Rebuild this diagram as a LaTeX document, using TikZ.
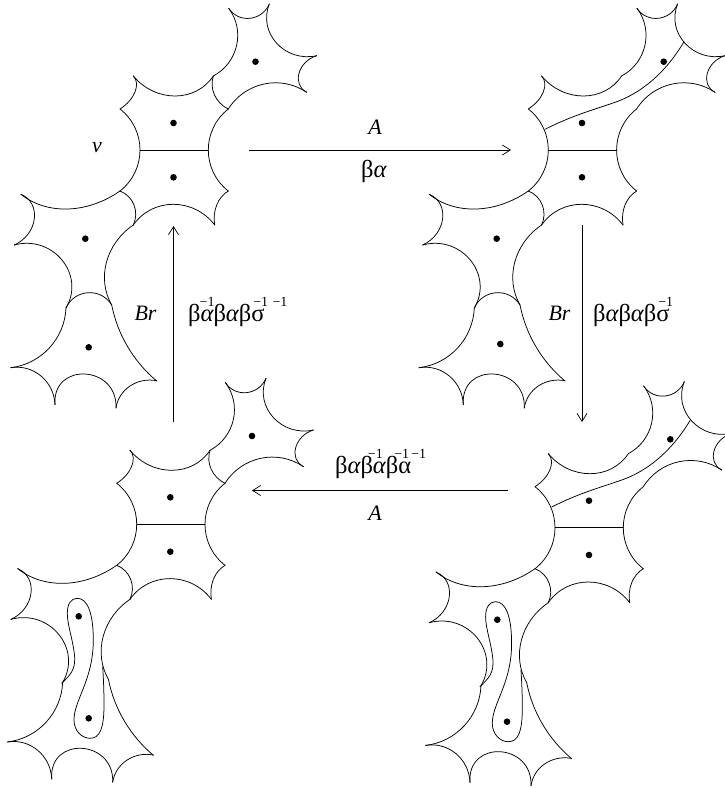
\documentclass[tikz,border=0pt]{standalone}
\usepackage{fontspec}
\setmainfont{Liberation Serif}
\usetikzlibrary{arrows.meta}
\tikzset{
  ln/.style={line width=0.75pt,line cap=round,line join=round},
  arr/.style={line width=0.7pt,-{Straight Barb[length=8pt,width=10pt,line width=0.7pt]}},
  lab/.style={inner sep=0pt,font=\fontsize{22}{22}\selectfont\itshape},
  form/.style={inner sep=0pt,anchor=base west,font=\fontsize{24.5}{24.5}\selectfont}
}
% circular-looking arc from a through mid point m to b, as one cubic
\newcommand\ar[6]{%
  \pgfmathsetmacro\mmx{(#1+#5)/2}\pgfmathsetmacro\mmy{(#2+#6)/2}%
  \pgfmathsetmacro\tts{(((#3-\mmx)/10)^2+((#4-\mmy)/10)^2)/((((#5-#1)/20)^2+((#6-#2)/20)^2))}%
  \pgfmathsetmacro\ka{(1-\tts)/3}%
  \pgfmathsetmacro\cax{#1+\ka*(#5-#1)+(4/3)*(#3-\mmx)}%
  \pgfmathsetmacro\cay{#2+\ka*(#6-#2)+(4/3)*(#4-\mmy)}%
  \pgfmathsetmacro\cbx{#5-\ka*(#5-#1)+(4/3)*(#3-\mmx)}%
  \pgfmathsetmacro\cby{#6-\ka*(#6-#2)+(4/3)*(#4-\mmy)}%
  \draw[ln] (#1,#2) .. controls (\cax,\cay) and (\cbx,\cby) .. (#5,#6);%
}
\newcommand\dt[1]{\fill #1 circle (3.3pt);}
\newcommand\itl{{\itshape α}}
\newcommand\supr[1]{\makebox[0pt][l]{\hspace{#1}\raisebox{15pt}{\fontsize{14}{14}\selectfont −1}}}
% the part common to all four pictures
\newcommand\figbase{%
  \ar{133.3}{76}{175}{96}{213.3}{76}
  \ar{213.3}{76}{236.6}{45.5}{228.7}{8.3}
  \ar{228.7}{8.3}{250}{18.3}{269.3}{4}
  \ar{269.3}{4}{276.7}{43.3}{316.7}{55.7}
  \ar{316.7}{55.7}{299}{73.3}{306.7}{92.3}
  \ar{306.7}{92.3}{264}{84}{228.3}{109}
  \ar{228.3}{109}{208.3}{150}{228.3}{191}
  \ar{228.3}{191}{216.7}{205}{214.7}{225}
  \ar{214.7}{225}{173.3}{204.3}{133.3}{225}
  \ar{133.3}{225}{106.5}{262}{111.7}{305}
  \ar{111.7}{305}{127.7}{346.8}{156.7}{381}
  \ar{120}{109}{135}{92}{133.3}{76}
  \ar{120}{109}{140}{150}{120}{191}
  \ar{120}{191}{68}{209}{21}{194.3}
  \ar{21}{194.3}{34.3}{219}{14.3}{245}
  \ar{14.3}{245}{62}{260}{66}{308}
  \ar{66}{308}{49.3}{348}{10.7}{367.7}
  \ar{10.7}{367.7}{41}{376}{55}{404.7}
  \ar{55}{404.7}{85}{374}{116}{408}
  \ar{116}{408}{130}{386}{156.7}{380.7}
  \draw[ln] (140,150) -- (208.3,150);
}
\newcommand\bottomshort{\ar{120}{191}{134}{205}{133.3}{225}}
\newcommand\topshort{\ar{213.3}{76}{214.5}{95}{228.3}{109}}
\newcommand\neck{\ar{66}{308}{88}{292.7}{111.7}{305}}
\newcommand\longline{\draw[ln] (136.7,129.3) .. controls (165,115) and (185,110) .. (208.4,101.7) .. controls (240,90) and (262,65) .. (275.7,41.7);}
% the closed loop round the two lower dots
\newcommand\loopcurve{\draw[ln] (61.7,683.3) .. controls (70,675) and (76,670) .. (74.5,655)
  .. controls (73,640) and (67.3,625) .. (67.3,613.3)
  .. controls (67.3,604) and (71,598.3) .. (77.3,598.3)
  .. controls (87,598.3) and (93.3,612) .. (93.3,640)
  .. controls (93.3,680) and (74,700) .. (74,720)
  .. controls (74,731) and (82,738.3) .. (90,738.3)
  .. controls (100,738.3) and (104,728) .. (104,705)
  .. controls (104,690) and (103.5,680) .. (102.7,666.7);}
\begin{document}
\begin{tikzpicture}[x=1pt,y=-1pt]
\useasboundingbox (0,0) rectangle (725,788);
\clip (0,0) rectangle (725,788);
% picture 1: top left
\begin{scope}
  \figbase \bottomshort \topshort \neck
\end{scope}
\dt{(173.5,123)}\dt{(173.5,177.3)}\dt{(255.5,61.7)}\dt{(85.3,238.7)}\dt{(88.7,347.3)}
% picture 2: top right
\begin{scope}[shift={(408.3,0)}]
  \figbase \bottomshort \neck \longline
\end{scope}
\dt{(582,123)}\dt{(582,177.3)}\dt{(663.7,61.7)}\dt{(496.7,238.7)}\dt{(500.3,344)}
% picture 3: bottom left
\begin{scope}[shift={(-3.3,374.3)}]
  \figbase \bottomshort \topshort
\end{scope}
\loopcurve
\dt{(170.3,497.3)}\dt{(170.3,551.7)}\dt{(252,436)}\dt{(78.7,616.3)}\dt{(88.7,718.3)}
% picture 4: bottom right
\begin{scope}[shift={(415,377.7)}]
  \figbase \bottomshort \longline
\end{scope}
\begin{scope}[shift={(418.3,3.4)}]
  \loopcurve
\end{scope}
\dt{(589,500.7)}\dt{(589,555)}\dt{(670.3,439.3)}\dt{(497.3,619.7)}\dt{(507,721.7)}
% arrows
\coordinate (t1) at (248.5,150);
\coordinate (t2) at (511,150);
\coordinate (r1) at (582,225);
\coordinate (r2) at (582,422);
\coordinate (b1) at (507.5,490.5);
\coordinate (b2) at (252,490.5);
\coordinate (l1) at (173.5,422);
\coordinate (l2) at (173.5,226);
\draw[arr] (t1) -- (t2);
\draw[arr] (r1) -- (r2);
\draw[arr] (b1) -- (b2);
\draw[arr] (l1) -- (l2);
% labels
\node[lab] (v) at (97,148) {v};
\node[lab] (la) at (375,127) {A};
\node[form] (lba) at (361,177) {β\itl};
\node[lab] (lb) at (145.5,313) {Br};
\node[form] (lf) at (188,321.5) {β\supr{-1pt}\itl β\itl β\supr{2pt}σ\supr{8pt}};
\node[lab] (rb) at (559.5,313) {Br};
\node[form] (rf) at (593,321.5) {β\itl β\itl β\supr{2pt}σ};
\node[form] (bf) at (335,473) {β\itl β\supr{-5pt}\itl β\supr{-4pt}α\supr{0pt}};
\node[lab] (ba) at (375,513) {A};
\end{tikzpicture}
\end{document}
